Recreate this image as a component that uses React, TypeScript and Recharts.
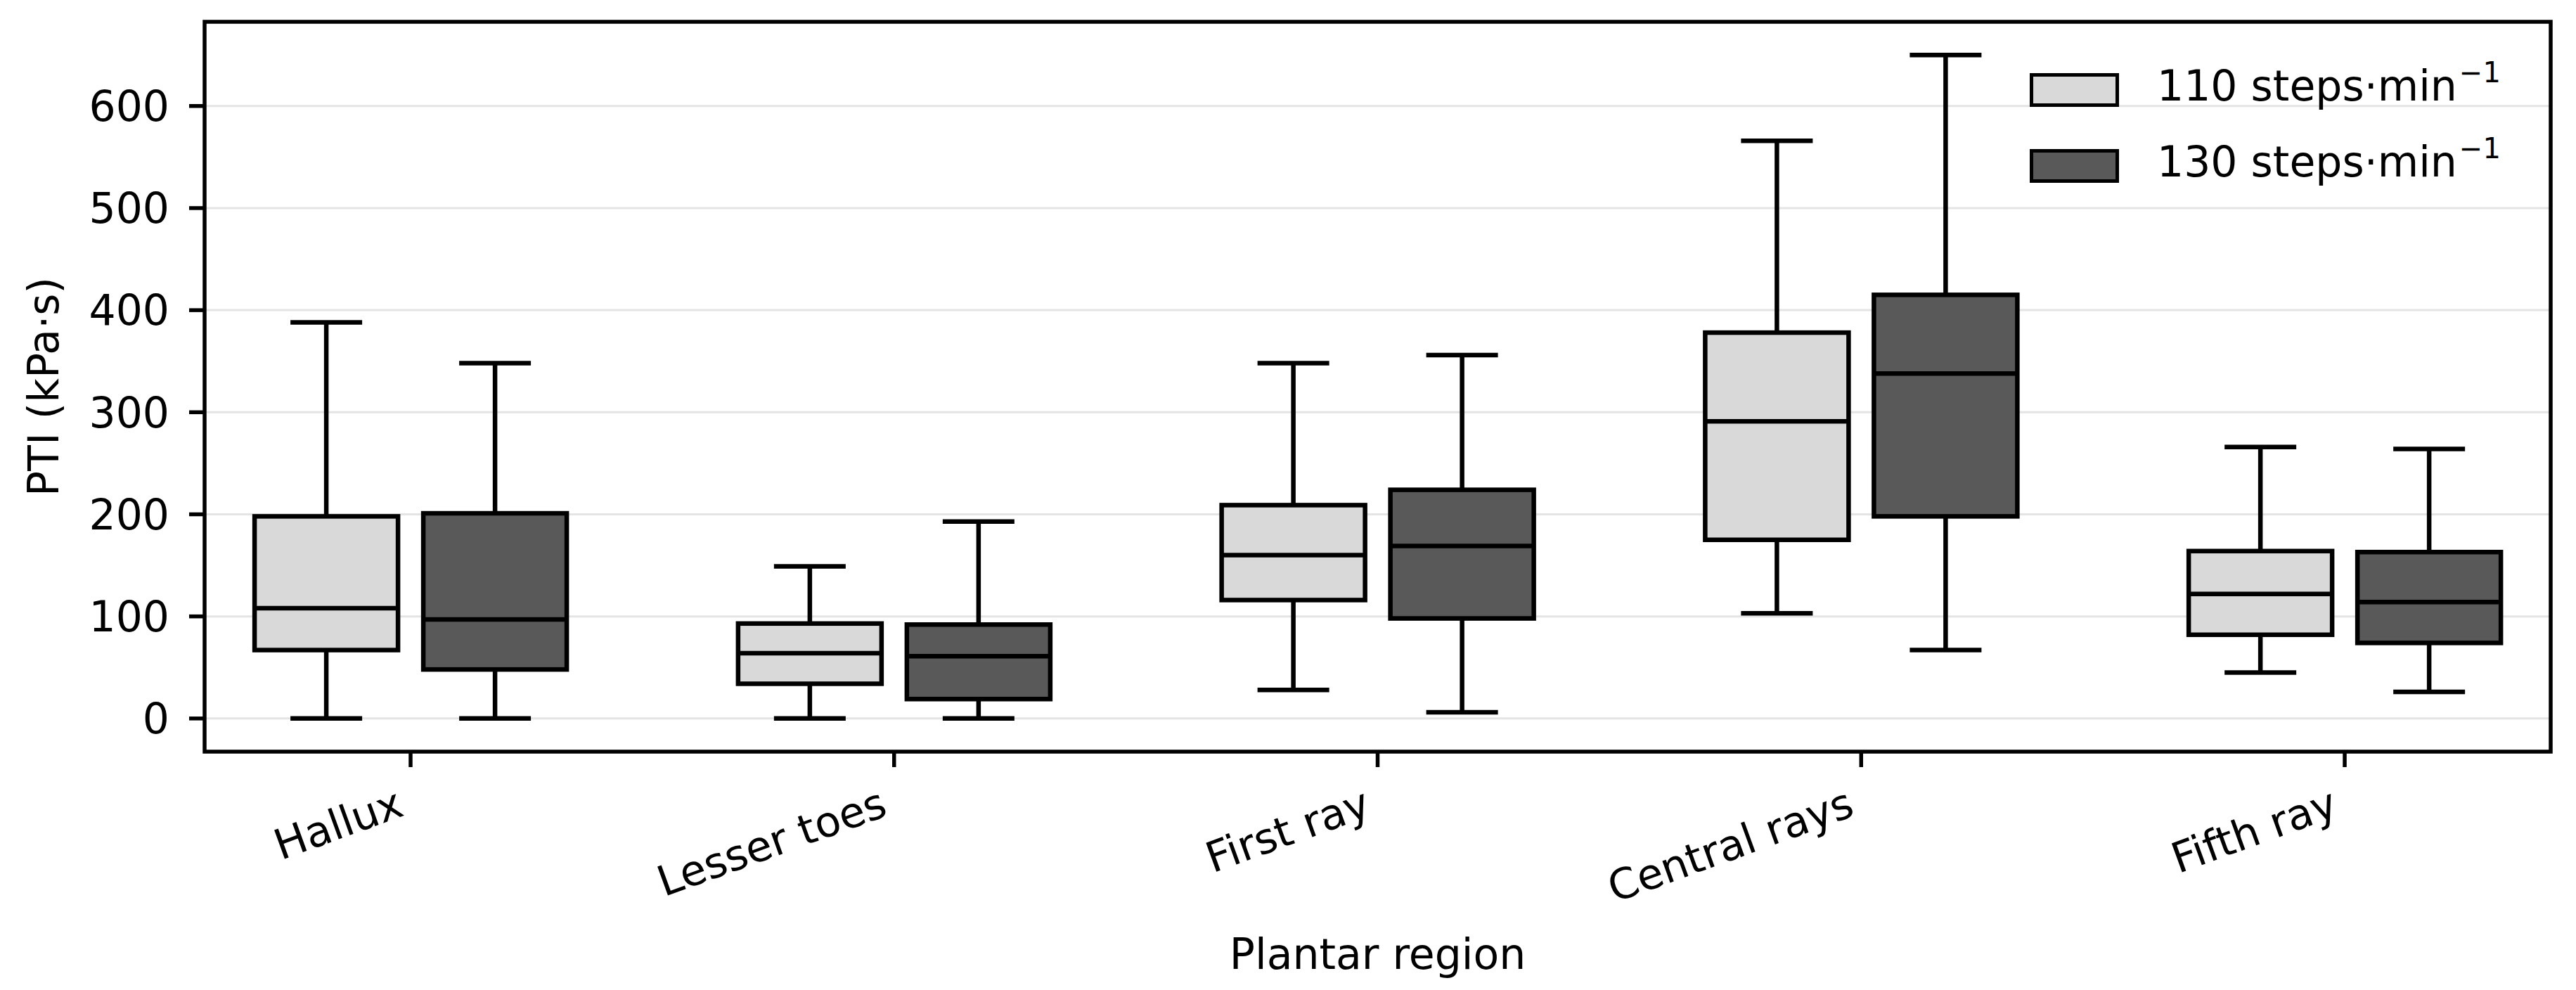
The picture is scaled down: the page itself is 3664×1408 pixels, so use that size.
import React from "react";
import { ComposedChart, Bar, XAxis, YAxis, CartesianGrid, ReferenceArea, Legend } from "recharts";

// regions on the x axis
const regions = ["Hallux", "Lesser toes", "First ray", "Central rays", "Fifth ray"];
const positions = [0, 1, 2, 3, 4];

// 110 steps/min box statistics (kPa·s)
const low110 = [0, 0, 28, 103, 45];
const q1_110 = [67, 34, 116, 175, 82];
const med110 = [108, 64, 160, 291, 122];
const q3_110 = [198, 93, 209, 378, 164];
const high110 = [388, 149, 348, 566, 266];

// 130 steps/min box statistics (kPa·s)
const low130 = [0, 0, 6, 67, 26];
const q1_130 = [48, 19, 98, 198, 74];
const med130 = [97, 61, 169, 338, 114];
const q3_130 = [201, 92, 224, 415, 163];
const high130 = [348, 193, 356, 650, 264];

const yTicks = [0, 100, 200, 300, 400, 500, 600];
const yDomain = [-32.5, 682.5];
const xDomain = [-0.426, 4.426];

const series = [
  { key: "110", label: "110 steps·min", fill: "#d9d9d9" },
  { key: "130", label: "130 steps·min", fill: "#595959" },
];

const rows = positions.map((pos, i) => ({
  pos,
  region: regions[i],
  r110: [low110[i], high110[i]],
  r130: [low130[i], high130[i]],
  s110: { low: low110[i], q1: q1_110[i], med: med110[i], q3: q3_110[i], high: high110[i] },
  s130: { low: low130[i], q1: q1_130[i], med: med130[i], q3: q3_130[i], high: high130[i] },
}));

const FONT = "DejaVu Sans";
const LW = 6.5;
const SPINE = 5.5;

function makeBoxShape(statsKey: string, fill: string) {
  return (props: any) => {
    const { x, y, width, height, payload } = props;
    const s = payload[statsKey];
    const top = Math.min(y, y + height);
    const bottom = Math.max(y, y + height);
    const span = s.high - s.low || 1;
    // map a value onto the bar's own scaled extent (low..high)
    const py = (v: number) => bottom - ((bottom - top) * (v - s.low)) / span;
    const cx = x + width / 2;
    const cap = width / 4;
    return (
      <g>
        <line x1={cx} x2={cx} y1={py(s.q3)} y2={py(s.high)} stroke="#000" strokeWidth={LW} />
        <line x1={cx} x2={cx} y1={py(s.q1)} y2={py(s.low)} stroke="#000" strokeWidth={LW} />
        <line x1={cx - cap} x2={cx + cap} y1={py(s.high)} y2={py(s.high)} stroke="#000" strokeWidth={LW} />
        <line x1={cx - cap} x2={cx + cap} y1={py(s.low)} y2={py(s.low)} stroke="#000" strokeWidth={LW} />
        <rect x={x} y={py(s.q3)} width={width} height={py(s.q1) - py(s.q3)} fill={fill} stroke="#000" strokeWidth={LW} />
        <line x1={x} x2={x + width} y1={py(s.med)} y2={py(s.med)} stroke="#000" strokeWidth={LW} />
      </g>
    );
  };
}

const XTick = (props: any) => {
  const { x, y, payload } = props;
  const bx = x - 7;
  const by = y + 66;
  return (
    <text x={bx} y={by} textAnchor="end" transform={`rotate(-20 ${bx} ${by})`} fontSize={60} fontFamily={FONT} fill="#000">
      {regions[payload.value]}
    </text>
  );
};

const YLabel = (props: any) => {
  const vb = props.viewBox || {};
  const cy = (vb.y ?? 31) + (vb.height ?? 1038) / 2;
  return (
    <text x={83} y={cy} textAnchor="middle" transform={`rotate(-90 83 ${cy})`} fontSize={60} fontFamily={FONT} fill="#000">
      PTI (kPa·s)
    </text>
  );
};

const LegendContent = () => (
  <div style={{ fontFamily: FONT, color: "#000" }}>
    {series.map((s) => (
      <div key={s.key} style={{ display: "flex", alignItems: "center", height: 108 }}>
        <div style={{ width: 127, height: 48, boxSizing: "border-box", border: `${SPINE}px solid #000`, background: s.fill }} />
        <span style={{ marginLeft: 54, fontSize: 60, lineHeight: "70px", position: "relative", top: -6, whiteSpace: "nowrap" }}>
          {s.label}
          <span style={{ fontSize: 40, lineHeight: 1, position: "relative", top: -26, marginLeft: 3 }}>−1</span>
        </span>
      </div>
    ))}
  </div>
);

export default function App() {
  return (
    <div style={{ width: 3664, height: 1408, background: "#fff" }}>
      <style>{`body{margin:0;}`}</style>
      <ComposedChart
        width={3664}
        height={1408}
        data={rows}
        margin={{ top: 31, right: 36, bottom: 0, left: 0 }}
        barGap={36}
      >
        <CartesianGrid vertical={false} stroke="#e4e4e4" strokeWidth={3} />
        <XAxis
          dataKey="pos"
          type="number"
          domain={xDomain}
          ticks={positions}
          allowDataOverflow
          interval={0}
          height={339}
          axisLine={false}
          tickSize={22}
          tickLine={{ stroke: "#000", strokeWidth: SPINE }}
          tick={<XTick />}
          label={{ value: "Plantar region", position: "insideBottom", offset: 30, fontSize: 60, fontFamily: FONT, fill: "#000" }}
        />
        <YAxis
          type="number"
          domain={yDomain}
          ticks={yTicks}
          allowDataOverflow
          interval={0}
          width={291}
          axisLine={false}
          tickSize={22}
          tickMargin={28}
          tickLine={{ stroke: "#000", strokeWidth: SPINE }}
          tick={{ fontSize: 60, fontFamily: FONT, fill: "#000" }}
          label={(p: any) => <YLabel {...p} />}
        />
        {series.map((s) => (
          <Bar
            key={s.key}
            dataKey={`r${s.key}`}
            name={s.label}
            fill={s.fill}
            barSize={204}
            isAnimationActive={false}
            shape={makeBoxShape(`s${s.key}`, s.fill)}
          />
        ))}
        <ReferenceArea x1={xDomain[0]} x2={xDomain[1]} y1={yDomain[0]} y2={yDomain[1]} fill="none" stroke="#000" strokeWidth={SPINE} />
        <Legend
          layout="vertical"
          align="center"
          verticalAlign="middle"
          content={<LegendContent />}
          wrapperStyle={{ position: "absolute", left: 2887, top: 74, width: 740, height: 216 }}
        />
      </ComposedChart>
    </div>
  );
}
